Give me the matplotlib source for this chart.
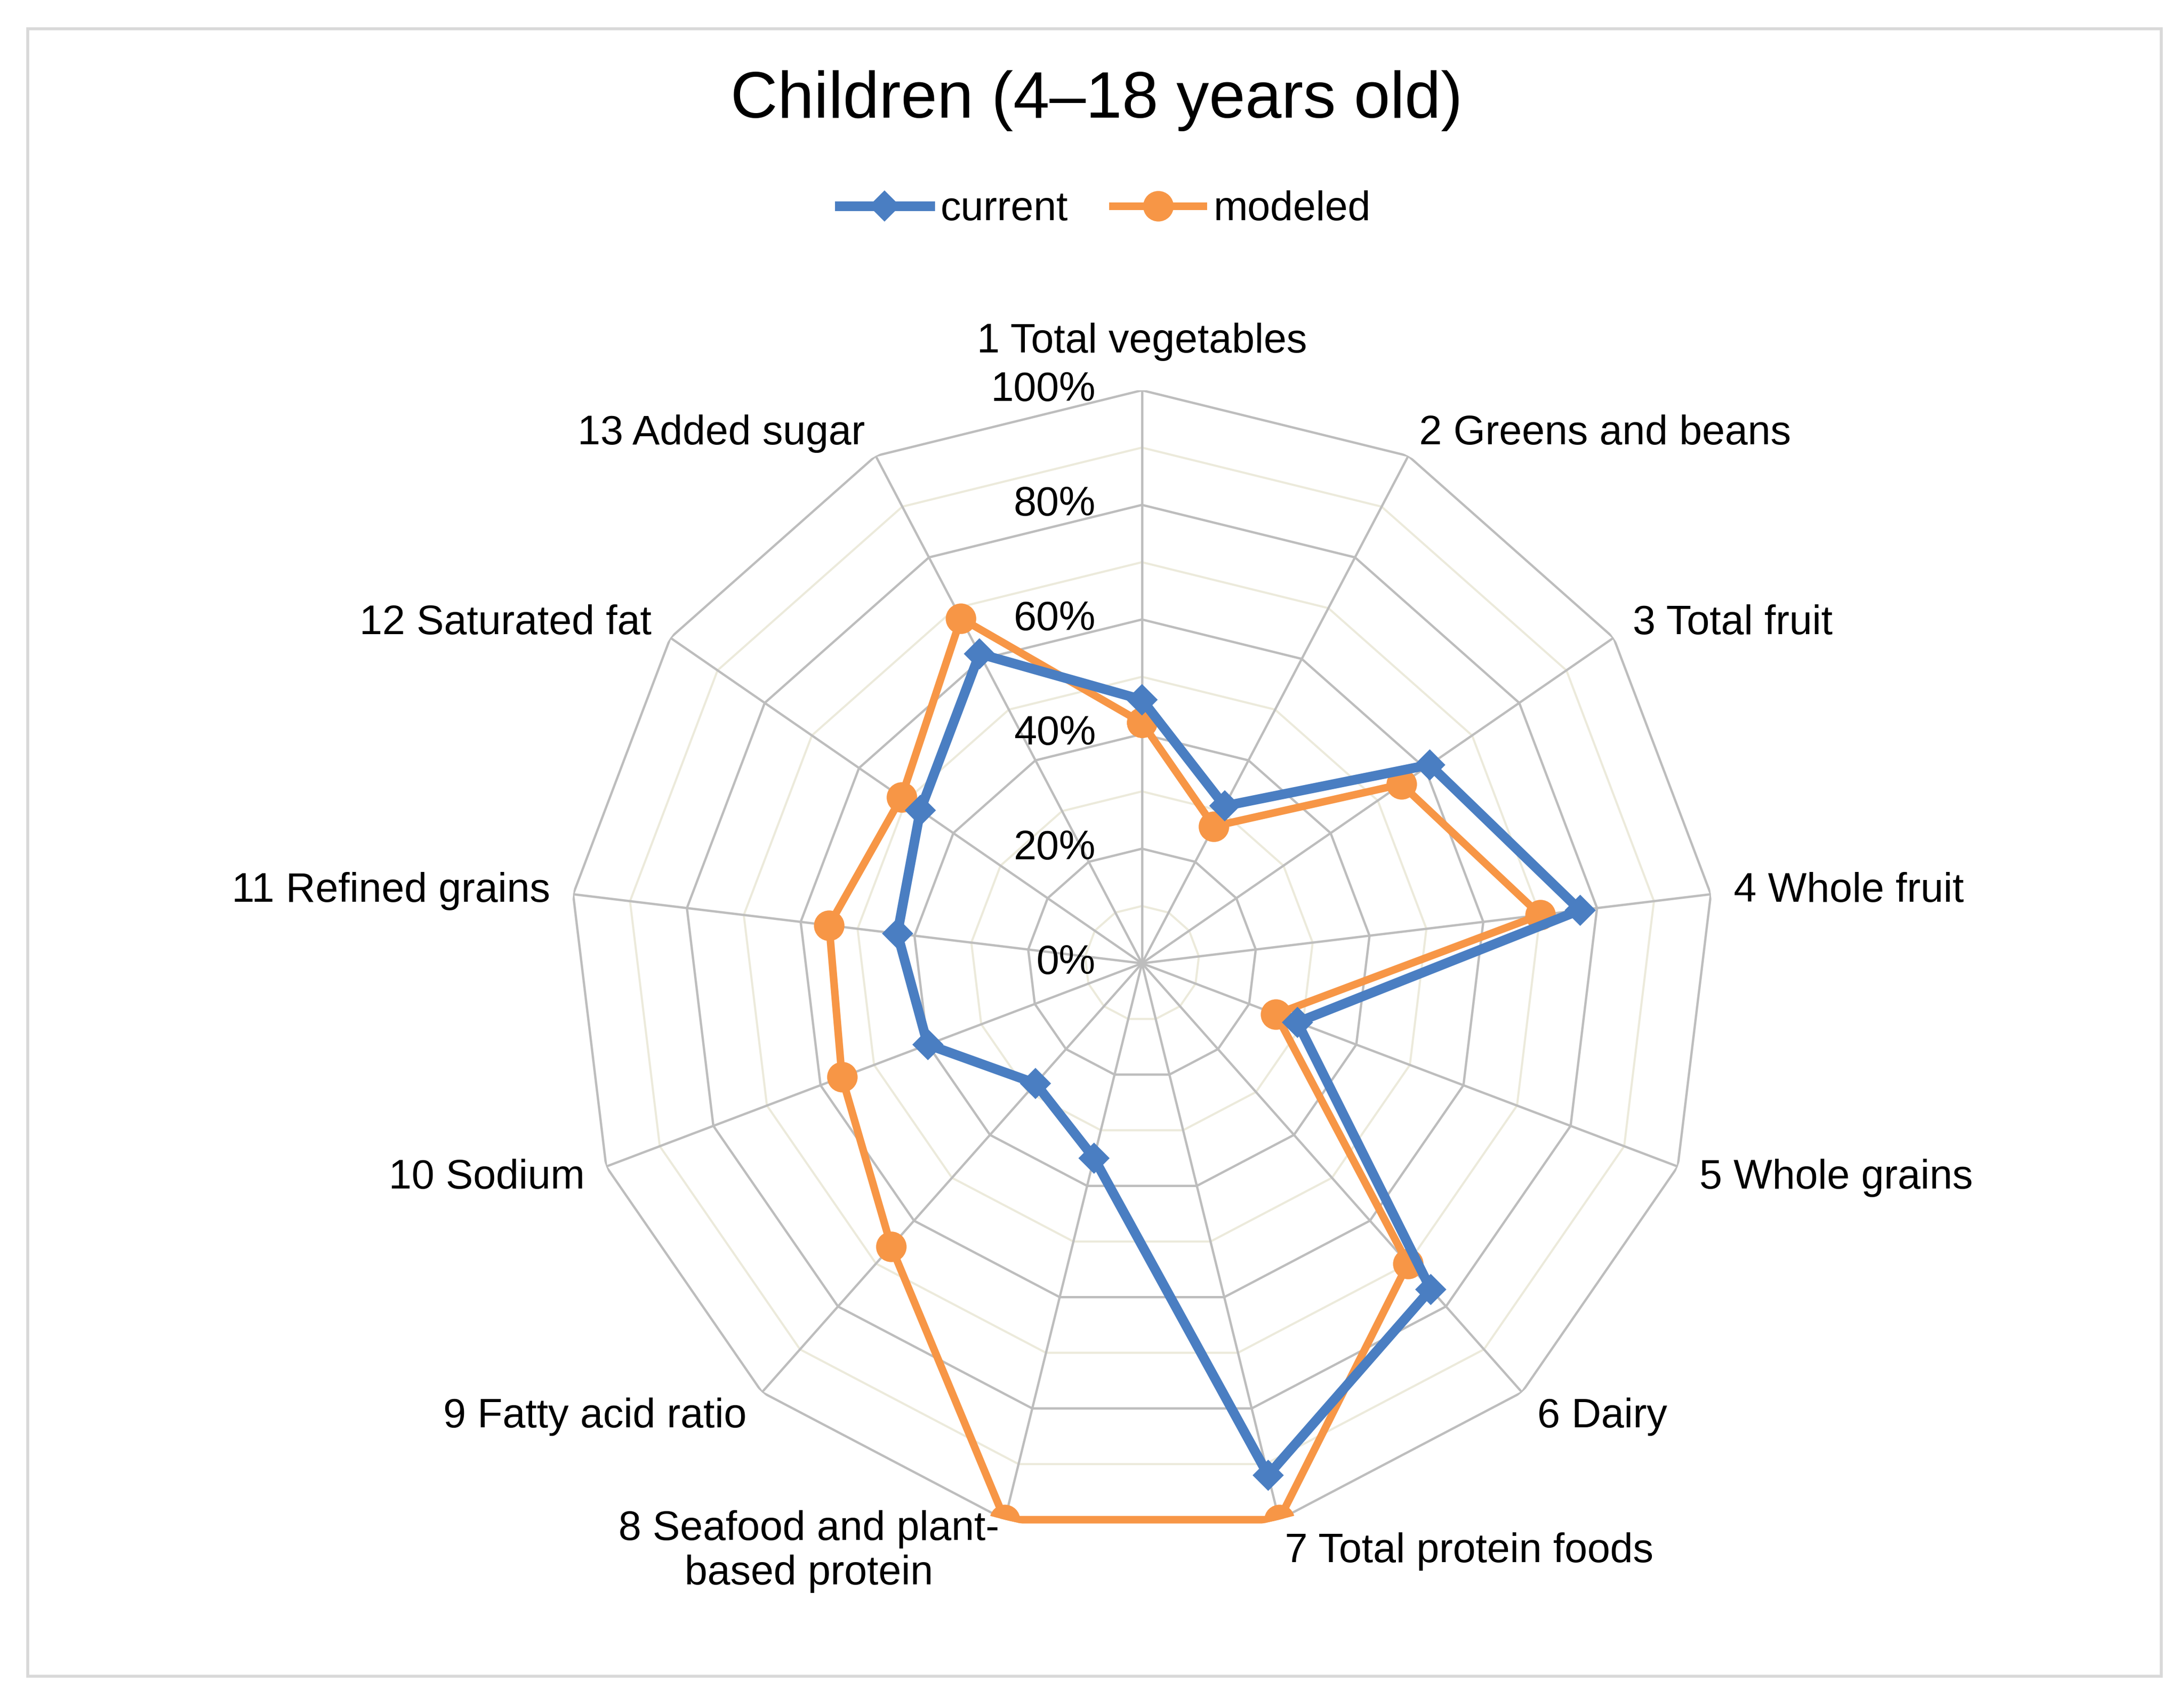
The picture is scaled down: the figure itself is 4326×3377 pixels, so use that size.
import numpy as np
import matplotlib
matplotlib.use("Agg")
import matplotlib.pyplot as plt
from matplotlib.patches import Rectangle
from matplotlib.lines import Line2D

plt.rcParams['font.family'] = ['Liberation Sans', 'DejaVu Sans']

# ---- data ----
categories = ["1 Total vegetables", "2 Greens and beans", "3 Total fruit", "4 Whole fruit",
              "5 Whole grains", "6 Dairy", "7 Total protein foods",
              "8 Seafood and plant-\nbased protein", "9 Fatty acid ratio", "10 Sodium",
              "11 Refined grains", "12 Saturated fat", "13 Added sugar"]
current = [46, 31, 61, 77, 29, 76, 92, 35, 28, 40, 43, 47, 61]
modeled = [42, 27, 55, 70, 25, 70, 100, 100, 66, 56, 55, 51, 68]
tick_values = [0, 20, 40, 60, 80, 100]
tick_labels = ["0%", "20%", "40%", "60%", "80%", "100%"]
minor_values = [10, 30, 50, 70, 90]
title = "Children (4\u201318 years old)"
series_names = ["current", "modeled"]

BLUE = "#4A7EC2"
ORANGE = "#F79646"
GRID = "#BDBDBD"
MINOR = "#ECEADB"

W, H = 4326, 3377
fig = plt.figure(figsize=(W / 300, H / 300), dpi=300)

# frame border
fig.patches.append(Rectangle((0.0127, 0.0169), 0.9769, 0.9662, transform=fig.transFigure,
                             fill=False, edgecolor="#D9D9D9", linewidth=1.4, zorder=0))

cx, cy, R = 2262, 1908, 1135
ax = fig.add_axes([(cx - R) / W, (H - cy - R) / H, 2 * R / W, 2 * R / H], projection='polar')
ax.set_theta_offset(np.pi / 2)
ax.set_theta_direction(-1)
ax.set_ylim(0, 100)
ax.grid(False)
ax.spines['polar'].set_visible(False)
ax.set_xticks([])
ax.set_yticks([])
ax.patch.set_visible(False)

n = len(categories)
theta = np.arange(n) * 2 * np.pi / n
theta_closed = np.append(theta, theta[0])

# minor rings
for v in minor_values:
    ax.plot(theta_closed, [v] * (n + 1), color=MINOR, lw=1.0, zorder=1)
# major rings
for v in tick_values[1:]:
    ax.plot(theta_closed, [v] * (n + 1), color=GRID, lw=1.1, zorder=2)
# spokes
for t in theta:
    ax.plot([t, t], [0, 100], color=GRID, lw=1.1, zorder=2)

# series
ax.plot(theta_closed, current + current[:1], color=BLUE, lw=4.6, marker='D', ms=9.5,
        zorder=5)
ax.plot(theta_closed, modeled + modeled[:1], color=ORANGE, lw=3.6, marker='o', ms=13.5,
        zorder=4)

# tick labels
for v, lab in zip(tick_values, tick_labels):
    ax.annotate(lab, xy=(0, v), xytext=(-22, 0), textcoords='offset points',
                ha='right', va='center', fontsize=19.5, color='black', zorder=6)

# category labels
for t, lab in zip(theta, categories):
    s, c = np.sin(t), np.cos(t)
    ha = 'left' if s > 0.1 else ('right' if s < -0.1 else 'center')
    if abs(s) < 0.1:
        dx, dy = 0, 23 * np.sign(c)
    else:
        dx = 11 * s
        dy = (12 if c > 0 else 15.5) * c
    ax.annotate(lab, xy=(t, 100), xytext=(dx, dy), textcoords='offset points',
                ha=ha, va='center', fontsize=19.5, multialignment='center',
                annotation_clip=False, linespacing=1.2)

# title
fig.text(0.502, 0.941, title, ha='center', va='center', fontsize=31)

# legend
handles = [Line2D([], [], color=BLUE, lw=4.6, marker='D', ms=9.5),
           Line2D([], [], color=ORANGE, lw=3.6, marker='o', ms=13.5)]
fig.legend(handles, series_names, loc='center', bbox_to_anchor=(0.506, 0.877), ncol=2,
           frameon=False, fontsize=19.5, handlelength=2.2, handletextpad=0.25,
           columnspacing=1.1)

fig.savefig("out.png", dpi=300)
